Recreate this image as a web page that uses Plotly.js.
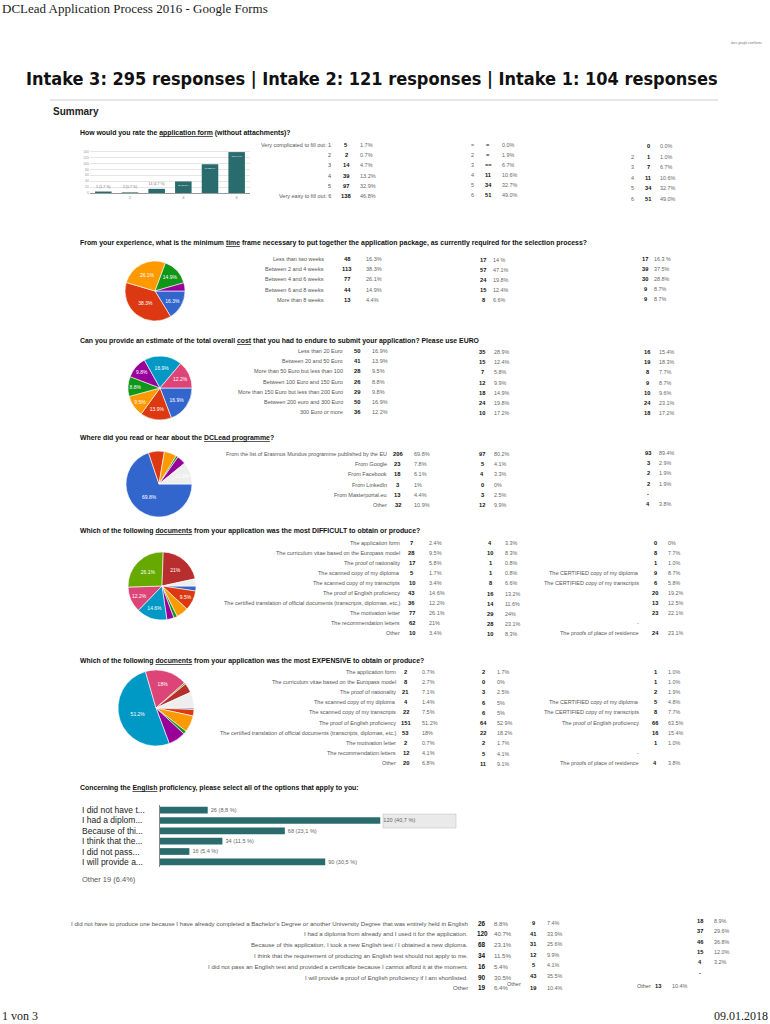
<!DOCTYPE html>
<html><head><meta charset="utf-8">
<script src="https://cdn.plot.ly/plotly-3.0.1.min.js"></script>
<style>html,body{margin:0;padding:0;background:#fff;}#chart{width:770px;height:1024px;}</style>
</head><body><div id="chart"></div>
<script>
// ---------------- DATA ----------------
const pageTitle = 'DCLead Application Process 2016 - Google Forms';
const mainTitle = 'Intake 3: 295 responses | Intake 2: 121 responses | Intake 1: 104 responses';

const q1Title = 'How would you rate the <u>application form</u> (without attachments)?';
const q1Categories = ['1','2','3','4','5','6'];
const q1RowLabels = ['Very complicated to fill out: 1','2','3','4','5','Very easy to fill out: 6'];
const q1Counts = [5,2,14,39,97,138];
const q1Pcts = ['1.7%','0.7%','4.7%','13.2%','32.9%','46.8%'];
const q1Intake2Labels = ['=','2','3','4','5','6'];
const q1Intake2Counts = ['=','=','==','11','34','51'];
const q1Intake2Pcts = ['0.0%','1.9%','6.7%','10.6%','32.7%','49.0%'];
const q1Intake1Labels = ['','2','3','4','5','6'];
const q1Intake1Counts = ['0','1','7','11','34','51'];
const q1Intake1Pcts = ['0.0%','1.0%','6.7%','10.6%','32.7%','49.0%'];

const q2Title = 'From your experience, what is the minimum <u>time</u> frame necessary to put together the application package, as currently required for the selection process?';
const q2Labels = ['Less than two weeks','Between 2 and 4 weeks','Between 4 and 6 weeks','Between 6 and 8 weeks','More than 8 weeks'];
const q2Counts = [48,113,77,44,13];
const q2Pcts = ['16.3%','38.3%','26.1%','14.9%','4.4%'];
const q2Intake2Counts = ['17','57','24','15','8'];
const q2Intake2Pcts = ['14 %','47.1%','19.8%','12.4%','6.6%'];
const q2Intake1Counts = ['17','39','30','9','9'];
const q2Intake1Pcts = ['16.3 %','37.5%','28.8%','8.7%','8.7%'];

const q3Title = 'Can you provide an estimate of the total overall <u>cost</u> that you had to endure to submit your application? Please use EURO';
const q3Labels = ['Less than 20 Euro','Between 20 and 50 Euro','More than 50 Euro but less than 100','Between 100 Euro and 150 Euro','More than 150 Euro but less than 200 Euro','Between 200 euro and 300 Euro','300 Euro or more'];
const q3Counts = [50,41,28,26,29,50,36];
const q3Pcts = ['16.9%','13.9%','9.5%','8.8%','9.8%','16.9%','12.2%'];
const q3Intake2Counts = ['35','15','7','12','18','24','10'];
const q3Intake2Pcts = ['28.9%','12.4%','5.8%','9.9%','14.9%','19.8%','17.2%'];
const q3Intake1Counts = ['16','19','8','9','10','24','18'];
const q3Intake1Pcts = ['15.4%','18.3%','7.7%','8.7%','9.6%','23.1%','17.2%'];

const q4Title = 'Where did you read or hear about the <u>DCLead programme</u>?';
const q4Labels = ['From the list of Erasmus Mundus programme published by the EU','From Google','From Facebook','From LinkedIn','From Masterportal.eu','Other'];
const q4Counts = [206,23,18,3,13,32];
const q4Pcts = ['69.8%','7.8%','6.1%','1%','4.4%','10.9%'];
const q4Intake2Counts = ['97','5','4','0','3','12'];
const q4Intake2Pcts = ['80.2%','4.1%','3.3%','0%','2.5%','9.9%'];
const q4Intake1Counts = ['93','3','2','2','-','4'];
const q4Intake1Pcts = ['89.4%','2.9%','1.9%','1.9%','','3.8%'];

const docLabels = ['The application form','The curriculum vitae based on the Europass model','The proof of nationality','The scanned copy of my diploma','The scanned copy of my transcripts','The proof of English proficiency','The certified translation of official documents (transcripts, diplomas, etc.)','The motivation letter','The recommendation letters','Other'];

const q5Title = 'Which of the following <u>documents</u> from your application was the most DIFFICULT to obtain or produce?';
const q5Counts = [7,28,17,5,10,43,36,77,62,10];
const q5Pcts = ['2.4%','9.5%','5.8%','1.7%','3.4%','14.6%','12.2%','26.1%','21%','3.4%'];
const q5Intake2Counts = ['4','10','1','1','8','16','14','29','28','10'];
const q5Intake2Pcts = ['3.3%','8.3%','0.8%','0.8%','6.6%','13.2%','11.6%','24%','23.1%','8.3%'];
const q5Intake1Labels = ['','','','The CERTIFIED copy of my diploma','The CERTIFIED copy of my transcripts','','','','-','The proofs of place of residence'];
const q5Intake1Counts = ['0','8','1','9','6','20','13','23','','24'];
const q5Intake1Pcts = ['0%','7.7%','1.0%','8.7%','5.8%','19.2%','12.5%','22.1%','','23.1%'];

const q6Title = 'Which of the following <u>documents</u> from your application was the most EXPENSIVE to obtain or produce?';
const q6Counts = [2,8,21,4,22,151,53,2,12,20];
const q6Pcts = ['0.7%','2.7%','7.1%','1.4%','7.5%','51.2%','18%','0.7%','4.1%','6.8%'];
const q6Intake2Counts = ['2','0','3','6','6','64','22','2','5','11'];
const q6Intake2Pcts = ['1.7%','0%','2.5%','5%','5%','52.9%','18.2%','1.7%','4.1%','9.1%'];
const q6Intake1Labels = ['','','','The CERTIFIED copy of my diploma','The CERTIFIED copy of my transcripts','The proof of English proficiency','','','-','The proofs of place of residence'];
const q6Intake1Counts = ['1','1','2','5','8','66','16','1','','4'];
const q6Intake1Pcts = ['1.0%','1.0%','1.9%','4.8%','7.7%','63.5%','15.4%','1.0%','','3.8%'];

const q7Title = 'Concerning the <u>English</u> proficiency, please select all of the options that apply to you:';
const q7Short = ['I did not have t...','I had a diplom...','Because of thi...','I think that the...','I did not pass...','I will provide a...'];
const q7Counts = [26,120,68,34,16,90];
const q7BarPcts = ['8,8 %','40,7 %','23,1 %','11,5 %','5,4 %','30,5 %'];
const q7OtherNote = 'Other 19 (6.4%)';
const q7Full = ["I did not have to produce one because I have already completed a Bachelor's Degree or another University Degree that was entirely held in English",
  'I had a diploma from already and I used it for the application.',
  'Because of this application, I took a new English test / I obtained a new diploma.',
  'I think that the requirement of producing an English test should not apply to me.',
  'I did not pass an English test and provided a certificate because I cannot afford it at the moment.',
  'I will provide a proof of English proficiency if I am shortlisted.',
  'Other'];
const q7TableCounts = ['26','120','68','34','16','90','19'];
const q7TablePcts = ['8.8%','40.7%','23.1%','11.5%','5.4%','30.5%','6.4%'];
const q7Intake2Counts = ['9','41','31','12','5','43','19'];
const q7Intake2Pcts = ['7.4%','33.9%','25.6%','9.9%','4.1%','35.5%','10.4%'];
const q7Intake1Counts = ['18','37','46','15','4','-','13'];
const q7Intake1Pcts = ['8.9%','29.6%','36.8%','12.0%','3.2%','','10.4%'];

const footerLeft = '1 von 3';
const footerRight = '09.01.2018';

const pieColors = ['#3366cc','#dc3912','#ff9900','#109618','#990099','#0099c6','#dd4477','#66aa00','#b82e2e','#eeeeee'];
const teal = '#2a6c6e';

// ---------------- LAYOUT HELPERS ----------------
const W = 770, H = 1024;
const SANS = 'Liberation Sans, Arial, sans-serif';
const SERIF = 'Liberation Serif, Times New Roman, serif';
const px = x => x / W;
const py = y => 1 - y / H;
const anns = [];
function T(text, x, y, o = {}) {
  anns.push({text: String(text), x: px(x), y: py(y), xref: 'paper', yref: 'paper',
    xanchor: o.anchor || 'left', yanchor: o.yanchor || 'middle', showarrow: false,
    font: {family: o.family || SANS, size: o.size || 5.5, color: o.color || '#555'}});
}
function column(arr, x, y0, step, o = {}) {
  arr.forEach((t, i) => { if (t !== '' && t !== null) T(o.bold ? '<b>' + t + '</b>' : t, x, y0 + i * step, o); });
}
function table(labels, counts, pcts, y0, step, xl, xc, xp, fs) {
  const s = fs || 5.5;
  column(labels, xl, y0, step, {anchor: 'right', size: s, color: '#555'});
  column(counts.map(String), xc, y0, step, {anchor: 'center', size: s + 0.3, color: '#111', bold: true});
  column(pcts, xp, y0, step, {anchor: 'left', size: s, color: '#666'});
}
function intake(counts, pcts, y0, step, xc, xp) {
  column(counts, xc, y0, step, {anchor: 'center', size: 5.7, color: '#111', bold: true});
  column(pcts, xp, y0, step, {anchor: 'left', size: 5.4, color: '#666'});
}
function pieDomain(cx, cy, r) {
  return {x: [px(cx - r), px(cx + r)], y: [py(cy + r), py(cy - r)]};
}
function pieTrace(values, pcts, cx, cy, r, colors) {
  const total = values.reduce((a, b) => a + b, 0);
  return {type: 'pie', values: values, text: pcts, sort: false, direction: 'clockwise', rotation: 90,
    domain: pieDomain(cx, cy, r), textinfo: 'text',
    texttemplate: values.map(v => v / total >= 0.08 ? '%{text}' : ''),
    textposition: 'inside', insidetextorientation: 'horizontal',
    textfont: {family: SANS, size: 5, color: '#fff'},
    marker: {colors: colors || pieColors, line: {color: '#fff', width: 0.6}},
    hoverinfo: 'none', showlegend: false};
}

// ---------------- HEADER ----------------
T(pageTitle, 0, 8, {family: SERIF, size: 13, color: '#222'});
T('docs.google.com/forms', 765, 43, {anchor: 'right', size: 3, color: '#777'});
T('<b>' + mainTitle + '</b>', 372, 78, {anchor: 'center', family: 'DejaVu Sans Condensed, Liberation Sans, sans-serif', size: 18, color: '#111'});
T('<b>Summary</b>', 51, 111, {size: 10, color: '#222'});

// ---------------- Q1 ----------------
T('<b>' + q1Title + '</b>', 78, 133, {size: 6.9, color: '#111'});
table(q1RowLabels, q1Counts, q1Pcts, 145, 10.2, 333, 346, 358);
column(q1Intake2Labels, 472, 145, 10, {anchor: 'center', size: 5.4, color: '#666'});
intake(q1Intake2Counts, q1Intake2Pcts, 145, 10, 488, 500);
column(q1Intake1Labels, 632, 146, 10.5, {anchor: 'center', size: 5.4, color: '#666'});
intake(q1Intake1Counts, q1Intake1Pcts, 146, 10.5, 648, 658);

// ---------------- Q2 ----------------
T('<b>' + q2Title + '</b>', 78, 243, {size: 6.9, color: '#111'});
table(q2Labels, q2Counts, q2Pcts, 259, 10.2, 326, 347, 364);
intake(q2Intake2Counts, q2Intake2Pcts, 260, 10, 483, 491);
intake(q2Intake1Counts, q2Intake1Pcts, 259, 10, 645, 652);

// ---------------- Q3 ----------------
T('<b>' + q3Title + '</b>', 78, 341, {size: 6.9, color: '#111'});
table(q3Labels, q3Counts, q3Pcts, 351, 10.2, 345, 357, 370);
intake(q3Intake2Counts, q3Intake2Pcts, 352, 10.2, 482, 492);
intake(q3Intake1Counts, q3Intake1Pcts, 352, 10.2, 647, 657);

// ---------------- Q4 ----------------
T('<b>' + q4Title + '</b>', 78, 438, {size: 6.9, color: '#111'});
table(q4Labels, q4Counts, q4Pcts, 454, 10.2, 389, 398, 412);
intake(q4Intake2Counts, q4Intake2Pcts, 454, 10.2, 482, 492);
intake(q4Intake1Counts, q4Intake1Pcts, 453, 10.2, 648, 657);

// ---------------- Q5 ----------------
T('<b>' + q5Title + '</b>', 78, 531, {size: 6.9, color: '#111'});
table(docLabels, q5Counts, q5Pcts, 543, 10, 402, 412, 427);
intake(q5Intake2Counts, q5Intake2Pcts, 543, 10.1, 490, 503);
column(q5Intake1Labels, 641, 543, 10, {anchor: 'right', size: 5.5, color: '#555'});
intake(q5Intake1Counts, q5Intake1Pcts, 543, 10, 655, 666);

// ---------------- Q6 ----------------
T('<b>' + q6Title + '</b>', 78, 661, {size: 6.9, color: '#111'});
table(docLabels, q6Counts, q6Pcts, 672, 10.1, 398, 406, 420);
intake(q6Intake2Counts, q6Intake2Pcts, 672, 10.2, 483, 495);
column(q6Intake1Labels, 641, 672, 10.1, {anchor: 'right', size: 5.5, color: '#555'});
intake(q6Intake1Counts, q6Intake1Pcts, 672, 10.1, 655, 666);

// ---------------- Q7 ----------------
T('<b>' + q7Title + '</b>', 78, 788, {size: 6.9, color: '#111'});
column(q7Short, 80, 810, 10.4, {anchor: 'left', size: 8.5, color: '#222'});
T(q7OtherNote, 80, 879, {size: 7.5, color: '#555'});
table(q7Full, q7TableCounts, q7TablePcts, 923, 10.8, 470, 482, 492, 6.1);
intake(q7Intake2Counts.slice(0, 6), q7Intake2Pcts.slice(0, 6), 923, 10.6, 533, 545);
T('Other', 505, 984, {size: 5.5, color: '#555'});
T('<b>' + q7Intake2Counts[6] + '</b>', 533, 988, {anchor: 'center', size: 5.7, color: '#111'});
T(q7Intake2Pcts[6], 545, 988, {size: 5.4, color: '#666'});
intake(q7Intake1Counts.slice(0, 6), q7Intake1Pcts.slice(0, 6), 921, 10.3, 700, 712);
T('Other', 635, 986, {size: 5.5, color: '#555'});
T('<b>' + q7Intake1Counts[6] + '</b>', 658, 986, {anchor: 'center', size: 5.7, color: '#111'});
T(q7Intake1Pcts[6], 670, 986, {size: 5.4, color: '#666'});

// ---------------- FOOTER ----------------
T(footerLeft, 0, 1016, {family: SERIF, size: 12, color: '#222'});
T(footerRight, 770, 1016, {anchor: 'right', family: SERIF, size: 12, color: '#222'});

// ---------------- TRACES ----------------
const traces = [
  {type: 'bar', x: q1Categories, y: q1Counts, xaxis: 'x', yaxis: 'y', marker: {color: teal}, width: 0.62,
   text: q1Counts.map((c, i) => c + ' (' + q1Pcts[i].replace('%', ' %') + ')'), textposition: 'auto',
   textangle: 0, insidetextanchor: 'end',
   textfont: {family: SANS, size: 3.5, color: '#fff'}, outsidetextfont: {color: '#777', size: 3.5},
   hoverinfo: 'none', showlegend: false, cliponaxis: false},
  pieTrace(q2Counts, q2Pcts, 155, 291, 30),
  pieTrace(q3Counts, q3Pcts, 160, 388, 32),
  pieTrace(q4Counts, q4Pcts, 159, 484, 33, ['#3366cc','#dc3912','#ff9900','#109618','#990099','#eeeeee']),
  pieTrace(q5Counts, q5Pcts, 162, 586, 34),
  pieTrace(q6Counts, q6Pcts, 156, 708, 38),
  {type: 'bar', orientation: 'h', y: q7Short, x: q7Counts, xaxis: 'x2', yaxis: 'y2', marker: {color: teal}, width: 0.65,
   text: q7Counts.map((c, i) => c + ' (' + q7BarPcts[i] + ')'), textposition: 'outside',
   textfont: {family: SANS, size: 7.5, color: '#666'}, hoverinfo: 'none', showlegend: false, cliponaxis: false}
];

const layout = {
  width: W, height: H, margin: {l: 0, r: 0, t: 0, b: 0}, paper_bgcolor: '#fff', plot_bgcolor: 'rgba(0,0,0,0)',
  font: {family: SANS, size: 5, color: '#555'}, showlegend: false,
  xaxis: {domain: [px(90), px(250)], anchor: 'y', showline: true, linecolor: '#999', linewidth: 1,
    tickfont: {size: 4, color: '#888'}, ticks: '', fixedrange: true},
  yaxis: {domain: [py(193), py(150)], anchor: 'x', range: [0, 145], dtick: 20, showgrid: true, gridcolor: '#e6e6e6',
    tickfont: {size: 3.5, color: '#999'}, zeroline: false, fixedrange: true},
  xaxis2: {domain: [px(160), px(417)], anchor: 'y2', range: [0, 140], showgrid: false, zeroline: false,
    showticklabels: false, fixedrange: true},
  yaxis2: {domain: [py(867), py(805)], anchor: 'x2', autorange: 'reversed', showticklabels: false, showline: true,
    linecolor: '#888', linewidth: 1, fixedrange: true},
  annotations: anns,
  shapes: [
    {type: 'line', xref: 'paper', yref: 'paper', x0: px(50), x1: px(718), y0: py(100), y1: py(100),
     line: {color: '#cccccc', width: 1}},
    {type: 'rect', xref: 'paper', yref: 'paper', x0: px(383), x1: px(456), y0: py(828), y1: py(814),
     fillcolor: 'rgba(220,220,220,0.6)', line: {color: '#bbbbbb', width: 0.5}, layer: 'below'}
  ]
};
Plotly.newPlot('chart', traces, layout, {staticPlot: true, displayModeBar: false});
</script></body></html>
